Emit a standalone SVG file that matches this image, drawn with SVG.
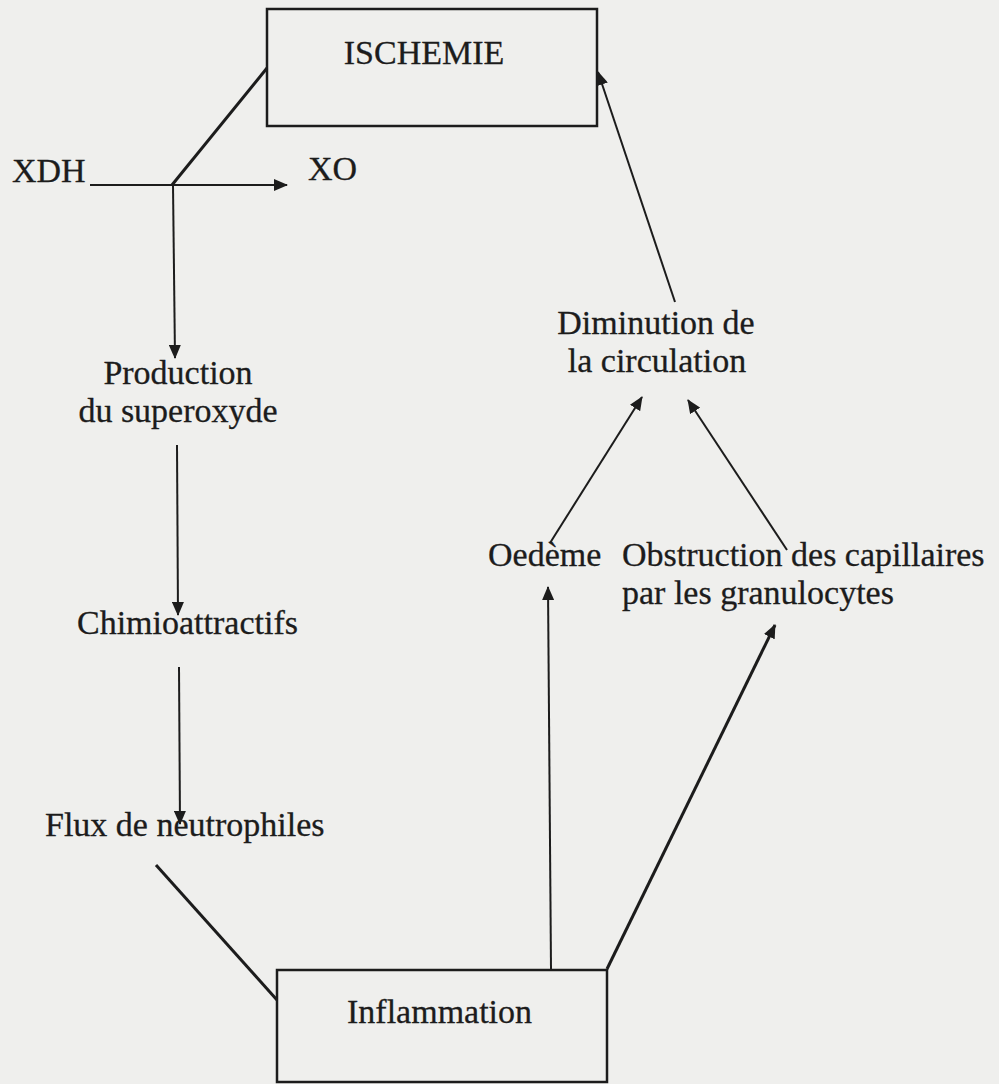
<svg xmlns="http://www.w3.org/2000/svg" width="999" height="1084" viewBox="0 0 999 1084">
<defs>
<marker id="ah" markerUnits="userSpaceOnUse" markerWidth="14" markerHeight="12" viewBox="0 0 14 12" refX="13" refY="6" orient="auto">
<path d="M0,0 L14,6 L0,12 Z" fill="#1c1c1c"/>
</marker>
<style>
text{font-family:"Liberation Serif","Times New Roman",serif;font-size:34px;fill:#1c1c1c;stroke:#1c1c1c;stroke-width:0.3}
.box{fill:none;stroke:#1c1c1c;stroke-width:2.5}
.thick{fill:none;stroke:#1c1c1c;stroke-width:3}
.arr{fill:none;stroke:#1c1c1c;stroke-width:2;marker-end:url(#ah)}
.arrt{fill:none;stroke:#1c1c1c;stroke-width:3;marker-end:url(#ah)}
.m{text-anchor:middle}
</style>
</defs>
<rect width="999" height="1084" fill="#efefed"/>
<g id="connectors">
<line class="thick" x1="267" y1="68" x2="172" y2="185"/>
<line class="arr" x1="90" y1="185" x2="287" y2="185"/>
<line class="arr" x1="173" y1="185" x2="175" y2="358"/>
<line class="arr" x1="177" y1="445" x2="178" y2="615"/>
<line class="arr" x1="179" y1="667" x2="180" y2="824"/>
<line class="thick" x1="156" y1="865" x2="277" y2="1000"/>
<line class="arr" x1="551" y1="969" x2="548" y2="587"/>
<line class="arrt" x1="607" y1="969" x2="775" y2="625"/>
<line class="arr" x1="550" y1="543" x2="642" y2="397"/>
<line class="arr" x1="787" y1="550" x2="688" y2="400"/>
<line class="arr" x1="675" y1="302" x2="598" y2="72"/>
</g>
<g id="ischemie">
<rect class="box" x="267" y="9" width="330" height="117"/>
<text class="m" x="424" y="64">ISCHEMIE</text>
</g>
<g id="xdh"><text x="12" y="182">XDH</text></g>
<g id="xo"><text x="308" y="180">XO</text></g>
<g id="production">
<text class="m" x="178" y="384">Production</text>
<text class="m" x="178" y="422">du superoxyde</text>
</g>
<g id="chimio"><text x="77" y="634">Chimioattractifs</text></g>
<g id="flux"><text x="45" y="836">Flux de neutrophiles</text></g>
<g id="inflammation">
<rect class="box" x="277" y="970" width="330" height="112"/>
<text x="347" y="1023">Inflammation</text>
</g>
<g id="oedeme"><text x="488" y="566">Oedème</text></g>
<g id="obstruction">
<text x="622" y="566">Obstruction des capillaires</text>
<text x="622" y="604">par les granulocytes</text>
</g>
<g id="diminution">
<text class="m" x="656" y="334">Diminution de</text>
<text class="m" x="657" y="372">la circulation</text>
</g>
</svg>
